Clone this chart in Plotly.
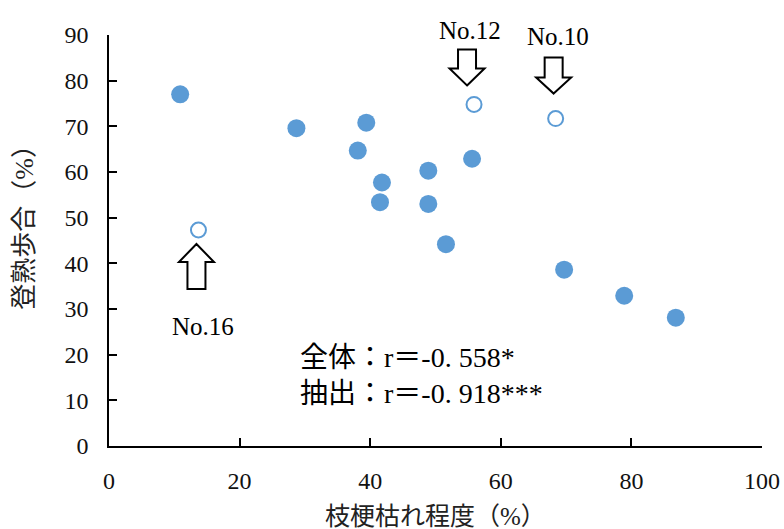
import plotly.graph_objects as go

# Data
all_x = [10.9, 28.7, 39.4, 38.1, 41.8, 41.5, 48.9, 48.9, 55.6, 51.6, 69.7, 78.9, 86.8]
all_y = [77.0, 69.6, 70.8, 64.7, 57.7, 53.4, 60.3, 53.0, 62.9, 44.2, 38.6, 32.9, 28.1]
sel_names = ["No.12", "No.10", "No.16"]
sel_x = [55.9, 68.4, 13.7]
sel_y = [74.8, 71.7, 47.3]
stat_lines = ["全体：r＝-0. 558*", "抽出：r＝-0. 918***"]
x_ticks = [0, 20, 40, 60, 80, 100]
y_ticks = [0, 10, 20, 30, 40, 50, 60, 70, 80, 90]

BLUE = "#5B9BD5"
FONT = "Liberation Serif, Noto Sans CJK JP"

fig = go.Figure()
fig.add_trace(go.Scatter(x=all_x, y=all_y, mode="markers",
                         marker=dict(size=18, color=BLUE, line=dict(width=0)),
                         cliponaxis=False, showlegend=False, hoverinfo="skip"))
fig.add_trace(go.Scatter(x=sel_x, y=sel_y, mode="markers",
                         marker=dict(size=15, color="white", line=dict(width=2, color=BLUE)),
                         cliponaxis=False, showlegend=False, hoverinfo="skip"))

# Block arrows (pixel offsets relative to each highlighted point)
arrow_geo = [(-7, 19, 36, 55), (-2, 25, 41, 61), (-2, -14, -32, -59)]
label_shift = [(-4, 74), (2, 82), (5, -96)]
HW, SW = 17.5, 9
for (px, py, name, geo, ls) in zip(sel_x, sel_y, sel_names, arrow_geo, label_shift):
    tx, tip, base, tail = geo
    path = (f"M {tx},{tip} L {tx+HW},{base} L {tx+SW},{base} L {tx+SW},{tail} "
            f"L {tx-SW},{tail} L {tx-SW},{base} L {tx-HW},{base} Z")
    fig.add_shape(type="path", xref="x", yref="y", xsizemode="pixel", ysizemode="pixel",
                  xanchor=px, yanchor=py, path=path,
                  line=dict(color="black", width=2), fillcolor="white", layer="above")
    fig.add_annotation(x=px, y=py, xref="x", yref="y", text=name, showarrow=False,
                       xshift=ls[0], yshift=ls[1],
                       font=dict(family=FONT, size=25, color="black"))

fig.add_annotation(x=28.9, y=19.3, xref="x", yref="y", text=stat_lines[0], showarrow=False,
                   xanchor="left", yanchor="middle", font=dict(family=FONT, size=28, color="black"))
fig.add_annotation(x=28.9, y=11.6, xref="x", yref="y", text=stat_lines[1], showarrow=False,
                   xanchor="left", yanchor="middle", font=dict(family=FONT, size=28, color="black"))

# Axis titles
fig.add_annotation(x=0.5, y=0, xref="paper", yref="paper", text="枝梗枯れ程度（%）",
                   showarrow=False, xanchor="center", yanchor="middle", yshift=-70,
                   font=dict(family=FONT, size=25, color="#222"))
fig.add_annotation(x=0, y=0.548, xref="paper", yref="paper", text="登熟歩合（%）",
                   showarrow=False, textangle=-90, xanchor="center", yanchor="middle",
                   xshift=-84, font=dict(family=FONT, size=26, color="#222"))

axis_common = dict(showgrid=False, zeroline=False, showline=True, linecolor="black",
                   linewidth=1.5, ticks="inside", ticklen=8, tickwidth=1.5, tickcolor="black",
                   automargin=False,
                   tickfont=dict(family=FONT, size=24, color="#111"))
fig.update_xaxes(range=[0, 100], tickvals=x_ticks, ticktext=[str(v) for v in x_ticks],
                 ticklabelstandoff=12, **axis_common)
fig.update_yaxes(range=[0, 90], tickvals=y_ticks, ticktext=[str(v) for v in y_ticks],
                 ticklabelstandoff=14, **axis_common)

fig.update_layout(width=784, height=529, autosize=False,
                  margin=dict(l=109, r=22, t=35, b=83, autoexpand=False),
                  paper_bgcolor="white", plot_bgcolor="white", showlegend=False)

# remove the default 8px page margin so the figure fills the window exactly
fig.write_html("out.html", config={"displayModeBar": False, "responsive": False},
               post_script="document.body.style.margin='0';document.body.style.overflow='hidden';")
